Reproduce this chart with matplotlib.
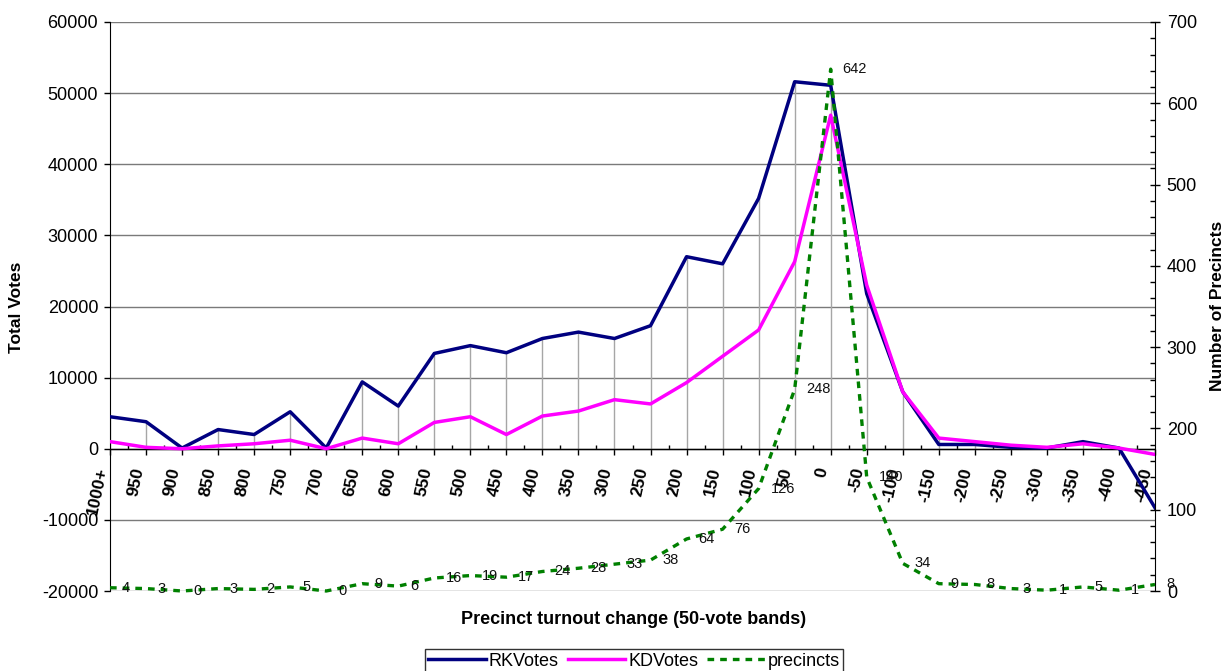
import matplotlib
matplotlib.use("Agg")
import matplotlib.pyplot as plt
from matplotlib.ticker import MultipleLocator, FixedLocator

plt.rcParams['font.family'] = ['Liberation Sans', 'DejaVu Sans']
plt.rcParams['axes.unicode_minus'] = False

categories = ['1000+', '950', '900', '850', '800', '750', '700', '650', '600', '550',
              '500', '450', '400', '350', '300', '250', '200', '150', '100', '50',
              '0', '-50', '-100', '-150', '-200', '-250', '-300', '-350', '-400', '-450']
rk_votes = [4500, 3800, 100, 2700, 2000, 5200, 100, 9400, 6000, 13400,
            14500, 13500, 15500, 16400, 15500, 17300, 27000, 26000, 35200, 51600,
            51100, 21800, 8000, 600, 600, 200, 100, 1000, 100, -8300]
kd_votes = [1000, 200, 0, 400, 700, 1200, 0, 1500, 700, 3700,
            4500, 2000, 4600, 5300, 6900, 6300, 9300, 13000, 16700, 26300,
            46900, 23000, 8000, 1500, 1000, 500, 200, 700, 100, -800]
precincts = [4, 3, 0, 3, 2, 5, 0, 9, 6, 16,
             19, 17, 24, 28, 33, 38, 64, 76, 126, 248,
             642, 140, 34, 9, 8, 3, 1, 5, 1, 8]

W, H = 1228, 671
fig = plt.figure(figsize=(W / 100, H / 100), dpi=100)
L, R, T, B = 110, 1155, 22, 591
ax = fig.add_axes([L / W, 1 - B / H, (R - L) / W, (B - T) / H])
ax2 = ax.twinx()

x = list(range(len(categories)))
ax.set_xlim(0, len(categories) - 1)
ax.set_ylim(-20000, 60000)
ax2.set_ylim(0, 700)

# gridlines
ax.yaxis.set_major_locator(MultipleLocator(10000))
ax.grid(axis='y', color='#7a7a7a', lw=1, zorder=0)
ax.set_axisbelow(True)

# drop lines
tops = [max(a, b) for a, b in zip(rk_votes, kd_votes)]
ax.vlines(x, [min(0, t) for t in tops], [max(0, t) for t in tops], color='#a6a6a6', lw=1, zorder=1)

ax.plot(x, rk_votes, color='#000080', lw=2.5, zorder=3, label='RKVotes')
ax.plot(x, kd_votes, color='#ff00ff', lw=2.5, zorder=3, label='KDVotes')

ln, = ax2.plot(x, precincts, color='#008000', lw=2.4, ls=(0, (2.0, 1.8)), zorder=3,
               label='precincts', clip_on=False)
for xi, p in zip(x, precincts):
    ax2.annotate(str(p), (xi, p), xytext=(8.5, 0), textcoords='offset points',
                 ha='left', va='center', fontsize=10.5, color='#111111',
                 annotation_clip=False)

# spines
for s in ['top', 'bottom']:
    ax.spines[s].set_visible(False)
    ax2.spines[s].set_visible(False)
ax.spines['left'].set_color('black')
ax2.spines['right'].set_color('black')
ax2.spines['left'].set_visible(False)
ax.spines['right'].set_visible(False)

# category axis at zero
ax.axhline(0, color='black', lw=1, zorder=2.6)
ax.xaxis.set_major_locator(FixedLocator(x))
ax.xaxis.set_minor_locator(FixedLocator([i + 0.5 for i in x[:-1]]))
ax.set_xticklabels(categories)
ax.spines['bottom'].set_position(('data', 0))
ax.spines['bottom'].set_visible(False)
ax.tick_params(axis='x', which='major', direction='out', length=4.5, width=1, pad=8,
               labelsize=12.5, color='black')
ax.tick_params(axis='x', which='minor', direction='in', length=3, width=1, color='black')
for lab in ax.get_xticklabels():
    lab.set_rotation(78)
    lab.set_ha('right')
    lab.set_va('top')
    lab.set_fontweight('bold')

ax.tick_params(axis='y', which='major', direction='out', length=4.5, width=1, pad=4,
               labelsize=13, color='black')

ax2.yaxis.set_major_locator(MultipleLocator(100))
ax2.yaxis.set_minor_locator(MultipleLocator(20))
ax2.tick_params(axis='y', which='major', direction='inout', length=7, width=1, pad=5,
                labelsize=13, color='black')
ax2.tick_params(axis='y', which='minor', direction='in', length=3.5, width=1, color='black')

fig.text(634 / W, 1 - 620 / H, 'Precinct turnout change (50-vote bands)',
         ha='center', va='center', fontsize=13, fontweight='bold')
fig.text(17 / W, 1 - 307 / H, 'Total Votes', rotation=90, ha='center', va='center',
         fontsize=12.5, fontweight='bold')
fig.text(1218 / W, 1 - 306 / H, 'Number of Precincts', rotation=90, ha='center',
         va='center', fontsize=12.5, fontweight='bold')

h1, l1 = ax.get_legend_handles_labels()
h2, l2 = ax2.get_legend_handles_labels()
leg = fig.legend(h1 + h2, l1 + l2, loc='upper center', bbox_to_anchor=(634 / W, 1 - 649 / H),
                 ncol=3, frameon=True, fancybox=False, edgecolor='black', fontsize=13,
                 handlelength=3.2, handletextpad=0.15, columnspacing=0.5,
                 borderpad=0.2, borderaxespad=0)
leg.get_frame().set_linewidth(1)

fig.savefig('out.png', dpi=100)
